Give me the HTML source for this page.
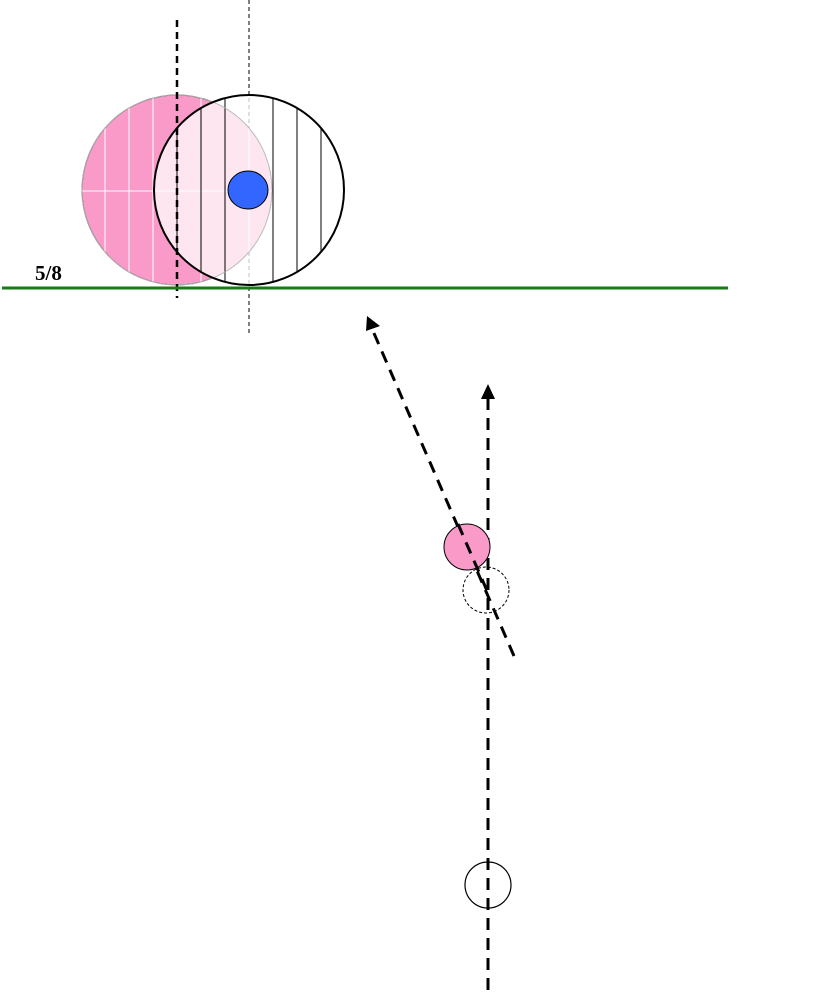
<!DOCTYPE html>
<html><head><style>body{margin:0;background:#fff}</style></head><body>
<svg width="819" height="993" viewBox="0 0 819 993" xmlns="http://www.w3.org/2000/svg">
<defs>
<clipPath id="cp"><circle cx="177" cy="190" r="95"/></clipPath>
<clipPath id="cb"><circle cx="249" cy="190" r="95"/></clipPath>
</defs>
<line x1="249" y1="0" x2="249" y2="335" stroke="#000" stroke-width="1" stroke-dasharray="4,3"/>
<circle cx="177" cy="190" r="95" fill="#f99ac8" stroke="#333" stroke-width="1"/>
<g clip-path="url(#cp)" stroke="#fff" stroke-width="1">
<line x1="105" y1="90" x2="105" y2="290"/><line x1="129" y1="90" x2="129" y2="290"/><line x1="153" y1="90" x2="153" y2="290"/><line x1="201" y1="90" x2="201" y2="290"/><line x1="225" y1="90" x2="225" y2="290"/><line x1="249" y1="90" x2="249" y2="290"/>
<line x1="80" y1="191" x2="275" y2="191"/>
</g>
<circle cx="249" cy="190" r="95" fill="#fff" fill-opacity="0.75" stroke="none"/>
<g clip-path="url(#cb)" stroke="#000" stroke-width="1">
<line x1="177" y1="90" x2="177" y2="290"/><line x1="201" y1="90" x2="201" y2="290"/><line x1="225" y1="90" x2="225" y2="290"/><line x1="273" y1="90" x2="273" y2="290"/><line x1="297" y1="90" x2="297" y2="290"/><line x1="321" y1="90" x2="321" y2="290"/>
</g>
<circle cx="177" cy="190" r="95" fill="none" stroke="#bbb" stroke-width="0.8"/>
<circle cx="249" cy="190" r="95" fill="none" stroke="#000" stroke-width="2"/>
<ellipse cx="248" cy="190" rx="20" ry="19" fill="#3366ff" stroke="#000" stroke-width="1"/>
<line x1="177" y1="20" x2="177" y2="298" stroke="#000" stroke-width="2.5" stroke-dasharray="7,5"/>
<line x1="2" y1="288" x2="728" y2="288" stroke="#1a7a1a" stroke-width="3"/>
<text x="35" y="280" font-family="Liberation Serif, serif" font-size="21" font-weight="bold">5/8</text>
<line x1="514" y1="656" x2="373" y2="331" stroke="#000" stroke-width="3" stroke-dasharray="12,8"/>
<polygon points="367,316 380,326 366,331" fill="#000"/>
<line x1="488" y1="990" x2="488" y2="398" stroke="#000" stroke-width="3" stroke-dasharray="12,8"/>
<polygon points="488,384 481,399 495,399" fill="#000"/>
<circle cx="467" cy="547" r="23" fill="#f99ac8" stroke="#000" stroke-width="1"/>
<line x1="458" y1="524" x2="488" y2="593" stroke="#000" stroke-width="3" stroke-dasharray="12,8"/>
<circle cx="486" cy="590" r="23" fill="none" stroke="#000" stroke-width="1" stroke-dasharray="3,2"/>
<circle cx="488" cy="885" r="23" fill="none" stroke="#000" stroke-width="1.2"/>
</svg>
</body></html>
